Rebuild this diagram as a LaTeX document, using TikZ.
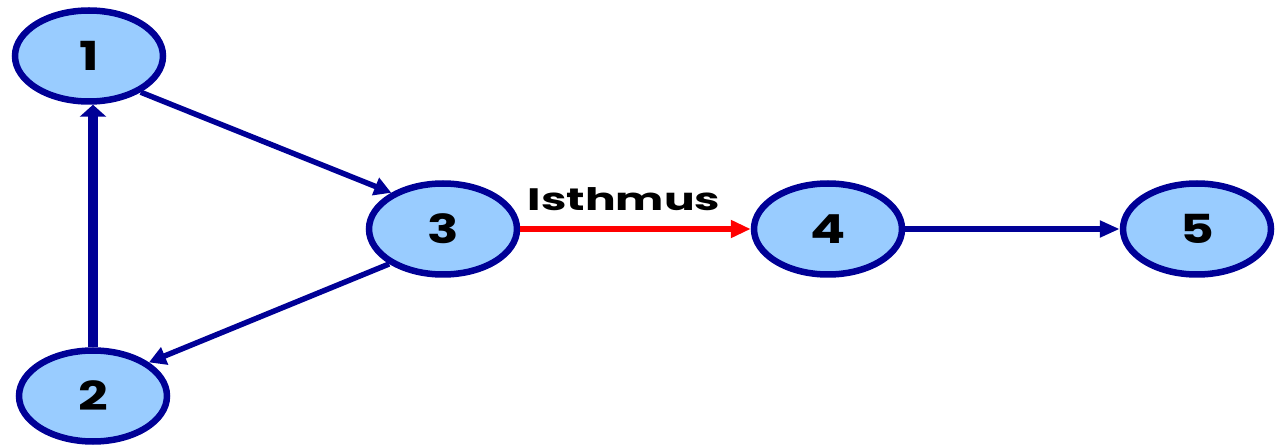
\documentclass[tikz,border=0pt]{standalone}
\usepackage{fontspec}
\setmainfont{Poppins}
\usetikzlibrary{arrows.meta,shapes.geometric}
\definecolor{navy}{RGB}{0,0,150}
\definecolor{lightfill}{RGB}{153,204,255}
\definecolor{isred}{RGB}{255,0,0}
\tikzset{
  vtx/.style={ellipse, draw=navy, fill=lightfill, line width=6.5pt,
    minimum width=148pt, minimum height=91pt, inner sep=0pt,
    font=\fontsize{40}{40}\selectfont\bfseries},
  edg/.style={draw=navy, line width=5.5pt, -{Triangle[length=17pt,width=18pt]}},
  isedge/.style={draw=isred, line width=6pt, -{Triangle[length=20pt,width=17pt]}},
  lbl/.style={font=\fontsize{31}{31}\selectfont\bfseries, inner sep=0pt}
}
\begin{document}
\begin{tikzpicture}[x=1pt,y=-1pt]
\useasboundingbox (0,0) rectangle (1277,446);
\node[vtx] (n1) at (89,56) {\scalebox{1.3}[1]{1}};
\node[vtx] (n2) at (93,396) {\scalebox{1.3}[1]{2}};
\node[vtx] (n3) at (443,229) {\scalebox{1.3}[1]{3}};
\node[vtx] (n4) at (828,229) {\scalebox{1.3}[1]{4}};
\node[vtx] (n5) at (1197,229) {\scalebox{1.3}[1]{5}};
\draw[edg] (n1.-35) -- (n3.145);
\draw[edg] (n3.213) -- (n2.31);
\draw[draw=navy, line width=10pt, -{Triangle[length=12pt,width=26pt]}] (n2.north) -- (n2.north |- n1.south);
\draw[isedge] (n3.east) -- (n4.west);
\draw[edg, line width=6pt, -{Triangle[length=20pt,width=16pt]}] (n4.east) -- (n5.west);
\node[lbl] (ist) at (624,199) {\scalebox{1.47}[1]{Isthmus}};
\end{tikzpicture}
\end{document}
